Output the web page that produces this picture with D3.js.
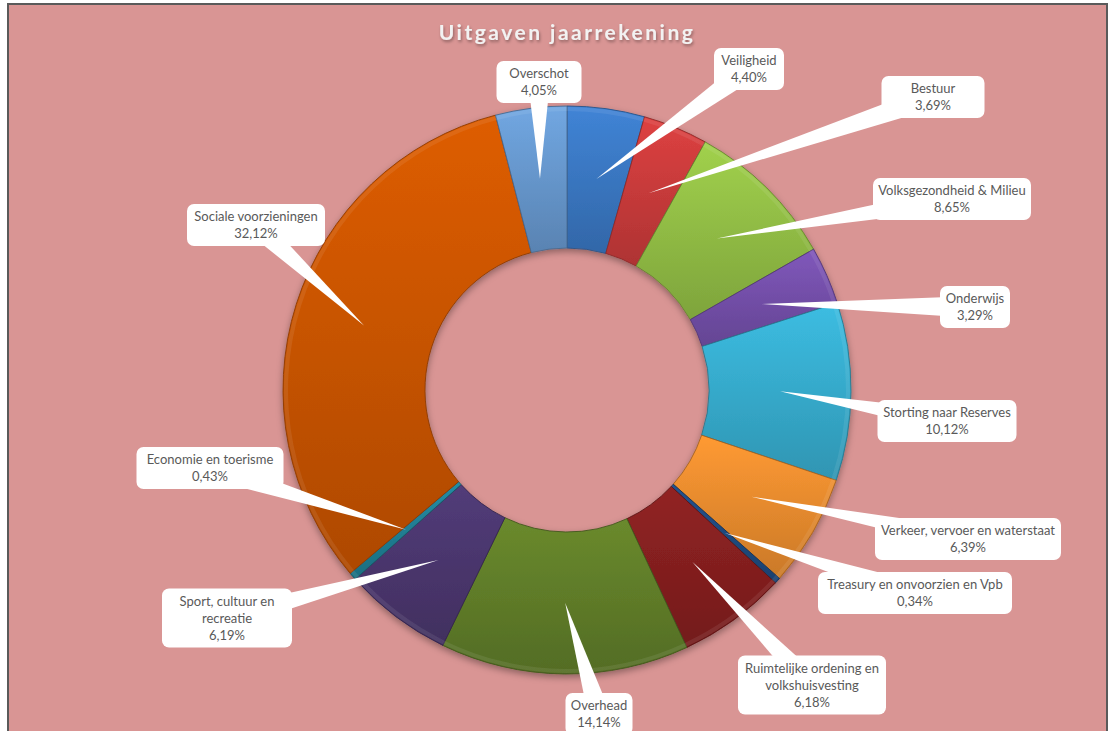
<!DOCTYPE html>
<html>
<head>
<meta charset="utf-8">
<script src="https://cdn.jsdelivr.net/npm/d3@7"></script>
<style>
  body { margin: 0; background: #ffffff; }
  svg { display: block; }
  .lbl { font-family: Lato, "Open Sans", sans-serif; font-size: 13px; fill: #595959; }
  .title { font-family: Lato, "Open Sans", sans-serif; font-size: 21px; font-weight: bold; fill: #f2f2f2; letter-spacing: 2.5px; }
</style>
</head>
<body>
<svg id="chart" width="1115" height="731"></svg>
<script>
// uitgaven jaarrekening, share per post (%)
var categories = [
    "Veiligheid", "Bestuur", "Volksgezondheid & Milieu", "Onderwijs",
    "Storting naar Reserves", "Verkeer, vervoer en waterstaat",
    "Treasury en onvoorzien en Vpb", "Ruimtelijke ordening en volkshuisvesting",
    "Overhead", "Sport, cultuur en recreatie", "Economie en toerisme",
    "Sociale voorzieningen", "Overschot"
];
var values = [4.40, 3.69, 8.65, 3.29, 10.12, 6.39, 0.34, 6.18, 14.14, 6.19, 0.43, 32.12, 4.05];

var sliceColors = [
    "#3e80d0", "#d83f3f", "#9ccb4a", "#7c55b6", "#3ab8dc", "#fa9632", "#22508a",
    "#8e2222", "#67862c", "#503a76", "#23889f", "#d85a06", "#6ea2dc"
];

// callout layout: box centre, width, text lines (category part)
var callouts = [
    { cx: 749, cy: 69, w: 70, lines: ["Veiligheid"] },
    { cx: 933, cy: 97, w: 103, lines: ["Bestuur"] },
    { cx: 952, cy: 199, w: 158, lines: ["Volksgezondheid & Milieu"] },
    { cx: 975, cy: 307, w: 70, lines: ["Onderwijs"] },
    { cx: 947, cy: 421, w: 139, lines: ["Storting naar Reserves"] },
    { cx: 968, cy: 539, w: 186, lines: ["Verkeer, vervoer en waterstaat"] },
    { cx: 915, cy: 593, w: 194, lines: ["Treasury en onvoorzien en Vpb"] },
    { cx: 812, cy: 685, w: 148, lines: ["Ruimtelijke ordening en", "volkshuisvesting"] },
    { cx: 599, cy: 714, w: 67, lines: ["Overhead"] },
    { cx: 227, cy: 618, w: 130, lines: ["Sport, cultuur en", "recreatie"] },
    { cx: 210, cy: 468, w: 147, lines: ["Economie en toerisme"] },
    { cx: 256, cy: 225, w: 138, lines: ["Sociale voorzieningen"] },
    { cx: 539, cy: 82, w: 85, lines: ["Overschot"] }
];

var cx = 567, cy = 390, rOuter = 284, rInner = 142;
var lineH = 17;

function fmt(v) { return v.toFixed(2).replace(".", ",") + "%"; }

var svg = d3.select("#chart");
var defs = svg.append("defs");

// frame + background
svg.append("rect")
    .attr("x", 8).attr("y", 4)
    .attr("width", 1099).attr("height", 760)
    .attr("fill", "#d99594")
    .attr("stroke", "#5a5a5a")
    .attr("stroke-width", 2);

// filters
var sh = defs.append("filter").attr("id", "ringShadow")
    .attr("x", "-20%").attr("y", "-20%").attr("width", "140%").attr("height", "140%");
sh.append("feDropShadow").attr("dx", 0).attr("dy", 3).attr("stdDeviation", 3.5)
    .attr("flood-color", "#000").attr("flood-opacity", 0.35);

var tsh = defs.append("filter").attr("id", "titleShadow")
    .attr("x", "-10%").attr("y", "-30%").attr("width", "120%").attr("height", "160%");
tsh.append("feDropShadow").attr("dx", 1).attr("dy", 2).attr("stdDeviation", 1.5)
    .attr("flood-color", "#000").attr("flood-opacity", 0.35);

// title
svg.append("text")
    .attr("class", "title")
    .attr("x", cx).attr("y", 40)
    .attr("text-anchor", "middle")
    .attr("filter", "url(#titleShadow)")
    .text("Uitgaven jaarrekening");

var data = categories.map(function(c, i) {
    return { name: c, value: values[i], color: sliceColors[i], box: callouts[i] };
});

var pie = d3.pie().sort(null).value(function(d) { return d.value; });
var arcs = pie(data);

var arc = d3.arc().innerRadius(rInner).outerRadius(rOuter);
var midArc = d3.arc().innerRadius((rInner + rOuter) / 2).outerRadius((rInner + rOuter) / 2);
var rimArc = d3.arc().innerRadius(rOuter - 5).outerRadius(rOuter - 1);

// vertical shading gradient, over each slice's own bounding box
arcs.forEach(function(a, i) {
    var g = defs.append("linearGradient")
        .attr("id", "grad" + i)
        .attr("x1", 0).attr("y1", 0)
        .attr("x2", 0).attr("y2", 1);
    var c = d3.color(a.data.color);
    g.append("stop").attr("offset", "0%").attr("stop-color", c.brighter(0.08));
    g.append("stop").attr("offset", "100%").attr("stop-color", c.darker(0.6));
});

var ring = svg.append("g")
    .attr("transform", "translate(" + cx + "," + cy + ")");

ring.append("g").attr("filter", "url(#ringShadow)")
    .selectAll("path")
    .data(arcs)
    .enter()
    .append("path")
    .attr("d", arc)
    .attr("fill", function(d, i) { return "url(#grad" + i + ")"; })
    .attr("stroke", function(d) { return d3.color(d.data.color).darker(1.2); })
    .attr("stroke-width", 0.9);

// bevel highlight along outer rim
ring.append("g")
    .selectAll("path")
    .data(arcs)
    .enter()
    .append("path")
    .attr("d", rimArc)
    .attr("fill", "#ffffff")
    .attr("fill-opacity", 0.08);

// callouts: wedge first, then box and text
var wedges = svg.append("g");
var boxes = svg.append("g");

arcs.forEach(function(a) {
    var b = a.data.box;
    var p = midArc.centroid(a);
    var tx = cx + p[0], ty = cy + p[1];
    var nLines = b.lines.length + 1;
    var h = nLines * lineH + 8;

    // wedge: base across the box centre, perpendicular to the direction of the tip
    var dx = tx - b.cx, dy = ty - b.cy;
    var len = Math.sqrt(dx * dx + dy * dy);
    var ux = -dy / len, uy = dx / len;
    var hw = 11;
    var pts = [
        [b.cx + ux * hw, b.cy + uy * hw],
        [tx, ty],
        [b.cx - ux * hw, b.cy - uy * hw]
    ];
    wedges.append("path")
        .attr("d", d3.line()(pts) + "Z")
        .attr("fill", "#ffffff");

    boxes.append("rect")
        .attr("x", b.cx - b.w / 2)
        .attr("y", b.cy - h / 2)
        .attr("width", b.w)
        .attr("height", h)
        .attr("rx", 7)
        .attr("fill", "#ffffff");

    var lines = b.lines.concat([fmt(a.data.value)]);
    var t = boxes.append("text")
        .attr("class", "lbl")
        .attr("text-anchor", "middle");
    lines.forEach(function(l, k) {
        t.append("tspan")
            .attr("x", b.cx)
            .attr("y", b.cy - (nLines - 1) * lineH / 2 + k * lineH + 4.5)
            .text(l);
    });
});
</script>
</body>
</html>
